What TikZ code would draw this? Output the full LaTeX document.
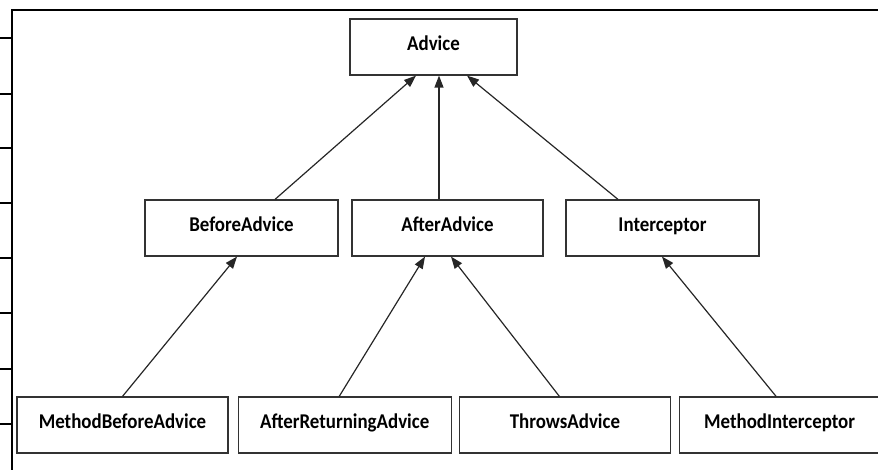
\documentclass[tikz,border=0pt]{standalone}
\usepackage{fontspec}
\setmainfont[FakeStretch=0.9]{Carlito}
\usetikzlibrary{positioning, arrows.meta}
\tikzset{
    cls/.style={draw=black!80, line width=1.2pt, fill=white, minimum height=56pt,
      inner sep=0pt, text height=0.84em, text depth=0.2em,
      font=\bfseries\fontsize{21}{23}\selectfont},
    inherit/.style={-{Triangle[length=12pt,width=9pt]}, line width=1.2pt, black!85},
}

\begin{document}
\begin{tikzpicture}[x=1pt, y=-1pt]
    \useasboundingbox (0,0) rectangle (878,470);

    % frame round the figure
    \draw[line width=2.2pt] (12,471) -- (12,10) -- (879,10);
    \foreach \y in {38,94,148,203,258,313,369,424}
      \draw[line width=1.4pt] (-1,\y) -- (12,\y);

    \node[cls, minimum width=167pt] (adv) at (433.5,47) {Advice};

    \node[cls, minimum width=193pt] (before) at (241.5,228) {BeforeAdvice};
    \node[cls, minimum width=191pt] (after) at (447.5,228) {AfterAdvice};
    \node[cls, minimum width=193pt] (icpt) at (662.5,228) {Interceptor};

    \node[cls, minimum width=211pt] (mbefore) at (122.5,425) {MethodBeforeAdvice};
    \node[cls, minimum width=213pt, right=9pt of mbefore] (areturn) {AfterReturningAdvice};
    \node[cls, minimum width=211pt, right=7pt of areturn] (throws) {ThrowsAdvice};
    \node[cls, minimum width=200pt, right=8pt of throws] (micpt) {MethodInterceptor};

    \draw[inherit] ([xshift=33.5]before.north) -- ([xshift=-17.5]adv.south);
    \draw[inherit] ([xshift=-8.5]after.north) -- ([xshift=5.5]adv.south);
    \draw[inherit] ([xshift=-44.5]icpt.north) -- ([xshift=33.5]adv.south);

    \draw[inherit] (mbefore.north) -- ([xshift=-4.5]before.south);
    \draw[inherit] ([xshift=-5.5]areturn.north) -- ([xshift=-22.5]after.south);
    \draw[inherit] ([xshift=-5.5]throws.north) -- ([xshift=3.5]after.south);
    \draw[inherit] ([xshift=-3.5]micpt.north) -- ([xshift=-0.5]icpt.south);
  \end{tikzpicture}
\end{document}
